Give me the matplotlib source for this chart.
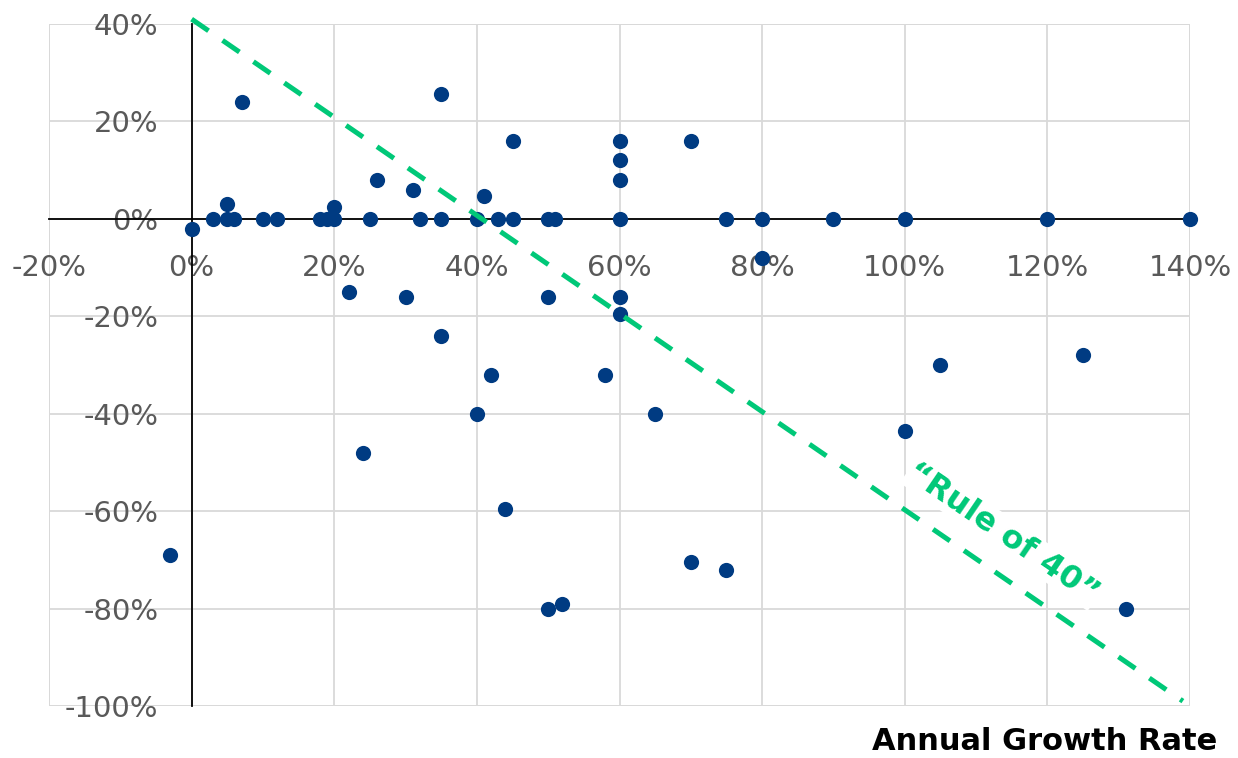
import numpy as np
import matplotlib.pyplot as plt
from matplotlib.ticker import FuncFormatter

# ---- Data (growth %, margin %) ----
growth = [0, 3, 5, 5, 6, 10, 12, 18, 19, 20, 20, 25, 26, 31, 32, 35, 7, 35,
          40, 41, 43, 45, 45, 50, 51, 60, 60, 60, 60, 70, 75, 80, 90, 100,
          120, 140, 80, 22, 30, 50, 60, 60, 35, 42, 58, 24, 40, 65, 44, 50,
          52, 70, 75, -3, 100, 105, 125, 131]
margin = [-2, 0, 3, 0, 0, 0, 0, 0, 0, 0, 2.5, 0, 8, 6, 0, 0, 24, 25.6,
          0, 4.7, 0, 0, 16, 0, 0, 0, 8, 12, 16, 16, 0, 0, 0, 0,
          0, 0, -8, -15, -16, -16, -16, -19.5, -24, -32, -32, -48, -40, -40, -59.5, -80,
          -79, -70.5, -72, -69, -43.5, -30, -28, -80]

# "Rule of 40" guide line, as drawn
rule_x = [0, 139]
rule_y = [41, -99]

xticks = list(range(-20, 141, 20))
yticks = list(range(-100, 41, 20))

DOT = "#003B82"
GREEN = "#00C878"
LABEL = "#595959"
GRID = "#D9D9D9"

fig = plt.figure(figsize=(12.38, 7.58), dpi=100)
ax = fig.add_axes([49 / 1238, 1 - 706 / 758, (1190 - 49) / 1238, (706 - 24) / 758])

ax.set_xlim(-20, 140)
ax.set_ylim(-100, 40)
ax.set_xticks(xticks)
ax.set_yticks(yticks)
pct = FuncFormatter(lambda v, _: f"{v:.0f}%")
ax.xaxis.set_major_formatter(pct)
ax.yaxis.set_major_formatter(pct)

ax.set_axisbelow(True)
ax.grid(True, color=GRID, linewidth=1.3)
for s in ["top", "right"]:
    ax.spines[s].set_visible(False)
for s in ["left", "bottom"]:
    ax.spines[s].set_position(("data", 0))
    ax.spines[s].set_linewidth(1.3)
    ax.spines[s].set_color("black")
    ax.spines[s].set_zorder(1.5)
# outer frame in gridline grey
ax.axvline(140, color=GRID, linewidth=1.3, zorder=0.5)
ax.axhline(40, color=GRID, linewidth=1.3, zorder=0.5)
ax.axvline(-20, color=GRID, linewidth=1.3, zorder=0.5)
ax.axhline(-100, color=GRID, linewidth=1.3, zorder=0.5)

ax.tick_params(axis="both", length=0, labelsize=21, labelcolor=LABEL)
ax.tick_params(axis="x", pad=25)
ax.tick_params(axis="y", pad=24)

ax.scatter(growth, margin, s=120, color=DOT, zorder=3, clip_on=False,
           linewidths=0)

# rule of 40 line
ax.plot(rule_x, rule_y, color=GREEN, linewidth=3.6, dashes=(4.1, 3.4),
        zorder=4, clip_on=False)

ax.text(113.8, -64.5, "\u201cRule of 40\u201d", color=GREEN, fontsize=23,
        fontweight="bold", rotation=-34.3, rotation_mode="anchor",
        ha="center", va="center", zorder=3.5,
        bbox=dict(facecolor="white", edgecolor="none", pad=1))

fig.text(1217 / 1238, 1 - 742 / 758, "Annual Growth Rate", fontsize=22,
         fontweight="bold", color="black", ha="right", va="center")

fig.savefig("out.png", dpi=100)
